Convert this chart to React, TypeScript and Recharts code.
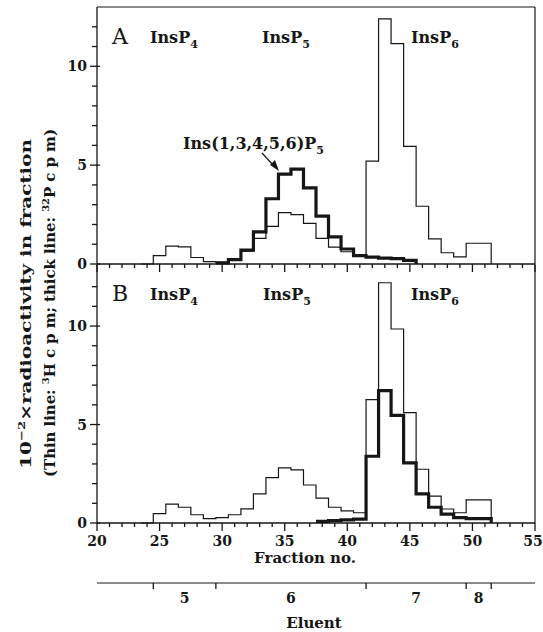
import { LineChart, Line, XAxis, YAxis, ReferenceLine } from "recharts";

// fraction numbers (bins are centred on these, edges at x.5)
const FRACTIONS = [
  24, 25, 26, 27, 28, 29, 30, 31, 32, 33, 34, 35, 36, 37, 38, 39, 40, 41, 42,
  43, 44, 45, 46, 47, 48, 49, 50, 51, 52,
];

// panel A: thin = 3H, thick = 32P  (x 100 c.p.m.)
const THIN_A = [
  0, 0.42, 0.9, 0.87, 0.33, 0.12, 0.08, 0.2, 0.65, 1.3, 1.9, 2.6, 2.5, 2.05,
  1.3, 0.85, 0.62, 0.38, 5.2, 12.4, 11.15, 5.95, 2.92, 1.27, 0.57, 0.36, 1.05,
  1.05, 0,
];
const THICK_A = [
  null, null, null, null, null, null, 0.06, 0.22, 0.7, 1.62, 3.3, 4.55, 4.8,
  3.85, 2.42, 1.37, 0.76, 0.42, 0.35, 0.3, 0.27, 0.18, 0, null, null, null,
  null, null, null,
];

// panel B
const THIN_B = [
  0, 0.48, 0.96, 0.8, 0.42, 0.22, 0.27, 0.42, 0.72, 1.48, 2.3, 2.8, 2.7, 1.93,
  1.26, 0.8, 0.62, 0.52, 6.26, 12.2, 9.85, 5.6, 2.73, 1.36, 0.71, 0.52, 1.17,
  1.17, 0,
];
const THICK_B = [
  null, null, null, null, null, null, null, null, null, null, null, null, null,
  null, 0.08, 0.12, 0.16, 0.2, 3.39, 6.72, 5.46, 3.05, 1.48, 0.8, 0.45, 0.27,
  0.22, 0.22, 0,
];

const X_TICKS = [
  20, 21, 22, 23, 24, 25, 26, 27, 28, 29, 30, 31, 32, 33, 34, 35, 36, 37, 38,
  39, 40, 41, 42, 43, 44, 45, 46, 47, 48, 49, 50, 51, 52, 53, 54, 55,
];
const X_LABELS = [20, 25, 30, 35, 40, 45, 50, 55];
const Y_TICKS = [0, 1, 2, 3, 4, 5, 6, 7, 8, 9, 10, 11, 12];
const Y_LABELS = [0, 5, 10];

// eluent changes (fraction boundaries) and eluent numbers
const ELUENT_BOUNDS = [24.5, 29.5, 41.5, 49.5, 51.5];
const ELUENT_NAMES = ["5", "6", "7", "8"];
const ELUENT_MIDS = ELUENT_NAMES.map(
  (_, i) => (ELUENT_BOUNDS[i] + ELUENT_BOUNDS[i + 1]) / 2
);
const ELUENT_TICKS = [...ELUENT_BOUNDS, ...ELUENT_MIDS].sort((a, b) => a - b);

const INK = "#161616";
const SERIF = "'DejaVu Serif', 'Liberation Serif', serif";

const rows = (thin: (number | null)[], thick: (number | null)[]) =>
  FRACTIONS.map((f, i) => ({ edge: f - 0.5, thin: thin[i], thick: thick[i] }));

const XTick = (props: any) => {
  const { x, y, payload, showLabel } = props;
  const major = X_LABELS.includes(payload.value);
  return (
    <g>
      <line x1={x} x2={x} y1={y} y2={y + (major ? 8 : 4)} stroke={INK} strokeWidth={1.3} />
      {showLabel && major && (
        <text x={Math.min(x, 533)} y={y + 23} textAnchor="middle" fontFamily={SERIF} fontWeight="bold" fontSize={14} fill={INK}>
          {payload.value}
        </text>
      )}
    </g>
  );
};

const YTick = (props: any) => {
  const { x, y, payload } = props;
  const major = Y_LABELS.includes(payload.value);
  return (
    <g>
      <line x1={x - (major ? 7 : 5)} x2={x + (major ? 3 : 0)} y1={y} y2={y} stroke={INK} strokeWidth={1.3} />
      {major && (
        <text x={x - 10} y={y + 5} textAnchor="end" fontFamily={SERIF} fontWeight="bold" fontSize={14} fill={INK}>
          {payload.value}
        </text>
      )}
    </g>
  );
};

const EluentTick = (props: any) => {
  const { x, y, payload } = props;
  const v = payload.value;
  if (ELUENT_BOUNDS.includes(v)) {
    return <line x1={x} x2={x} y1={y} y2={y + 6} stroke={INK} strokeWidth={1.3} />;
  }
  return (
    <text x={x} y={y + 20} textAnchor="middle" fontFamily={SERIF} fontWeight="bold" fontSize={14} fill={INK}>
      {ELUENT_NAMES[ELUENT_MIDS.indexOf(v)]}
    </text>
  );
};

const axisLine = { stroke: INK, strokeWidth: 1.3 };

const InsP = ({ x, y, sub }: { x: number; y: number; sub: string }) => (
  <text x={x} y={y} fontFamily={SERIF} fontWeight="bold" fontSize={16} fill={INK}>
    InsP<tspan dy={5} fontSize={11}>{sub}</tspan>
  </text>
);

export default function App() {
  const dataA = rows(THIN_A, THICK_A);
  const dataB = rows(THIN_B, THICK_B);
  return (
    <div style={{ position: "absolute", left: 0, top: 0, width: 543, height: 632, background: "#fff" }}>
      <div style={{ position: "absolute", left: 0, top: 0 }}>
        <LineChart width={543} height={290} data={dataA} margin={{ top: 7, right: 8, bottom: 0, left: 0 }}>
          <XAxis dataKey="edge" type="number" domain={[20, 55]} ticks={X_TICKS} interval={0} height={26}
            tickSize={0} tickMargin={0} tickLine={false} axisLine={axisLine} tick={<XTick showLabel={false} />} />
          <YAxis type="number" domain={[0, 13]} ticks={Y_TICKS} interval={0} width={97}
            tickSize={0} tickMargin={0} tickLine={false} axisLine={axisLine} tick={<YTick />} />
          <ReferenceLine y={13} stroke={INK} strokeWidth={1.2} />
          <ReferenceLine x={55} stroke={INK} strokeWidth={1.2} />
          <Line type="stepAfter" dataKey="thin" stroke={INK} strokeWidth={1.2} dot={false} activeDot={false} isAnimationActive={false} />
          <Line type="stepAfter" dataKey="thick" stroke={INK} strokeWidth={3.2} dot={false} activeDot={false} isAnimationActive={false} />
        </LineChart>
      </div>
      <div style={{ position: "absolute", left: 0, top: 0 }}>
        <LineChart width={543} height={632} data={dataB} margin={{ top: 265, right: 8, bottom: 0, left: 0 }}>
          <XAxis dataKey="edge" type="number" domain={[20, 55]} ticks={X_TICKS} interval={0} height={60}
            tickSize={0} tickMargin={0} tickLine={false} axisLine={axisLine} tick={<XTick showLabel />} />
          <XAxis xAxisId="el" dataKey="edge" type="number" domain={[20, 55]} ticks={ELUENT_TICKS} interval={0} height={49}
            tickSize={0} tickMargin={0} tickLine={false} axisLine={{ stroke: INK, strokeWidth: 1.1 }} tick={<EluentTick />} />
          <YAxis type="number" domain={[0, 13.1]} ticks={Y_TICKS} interval={0} width={97}
            tickSize={0} tickMargin={0} tickLine={false} axisLine={axisLine} tick={<YTick />} />
          <ReferenceLine x={55} stroke={INK} strokeWidth={1.2} />
          {/* same domain and range as the fraction axis */}
          <Line xAxisId="el" type="stepAfter" dataKey="thin" stroke={INK} strokeWidth={1.2} dot={false} activeDot={false} isAnimationActive={false} />
          <Line type="stepAfter" dataKey="thick" stroke={INK} strokeWidth={3.2} dot={false} activeDot={false} isAnimationActive={false} />
        </LineChart>
      </div>
      <svg width={543} height={632} style={{ position: "absolute", left: 0, top: 0, pointerEvents: "none" }}>
        {/* y axis title */}
        <text transform="rotate(-90 31 304)" x={31} y={304} textAnchor="middle" textLength={330} lengthAdjust="spacingAndGlyphs"
          fontFamily={SERIF} fontWeight="bold" fontSize={15} fill={INK}>
          10<tspan dy={-6} fontSize={10}>−2</tspan><tspan dy={6}>×radioactivity in fraction</tspan>
        </text>
        <text transform="rotate(-90 55 303)" x={55} y={303} textAnchor="middle" textLength={348} lengthAdjust="spacing"
          fontFamily={SERIF} fontWeight="bold" fontSize={15} fill={INK}>
          (Thin line: <tspan dy={-6} fontSize={10}>3</tspan><tspan dy={6}>H c p m; thick line: </tspan>
          <tspan dy={-6} fontSize={10}>32</tspan><tspan dy={6}>P c p m)</tspan>
        </text>

        {/* panel labels */}
        <text x={112} y={44} fontFamily={SERIF} fontSize={22} fill={INK}>A</text>
        <InsP x={150} y={43} sub="4" />
        <InsP x={262} y={43} sub="5" />
        <InsP x={411} y={43} sub="6" />
        <text x={112} y={301} fontFamily={SERIF} fontSize={22} fill={INK}>B</text>
        <InsP x={150} y={300} sub="4" />
        <InsP x={263} y={300} sub="5" />
        <InsP x={411} y={300} sub="6" />

        {/* annotation */}
        <text x={183} y={149} fontFamily={SERIF} fontWeight="bold" fontSize={16} fill={INK}>
          Ins(1,3,4,5,6)P<tspan dy={5} fontSize={11}>5</tspan>
        </text>
        <line x1={262} y1={153} x2={274} y2={166} stroke={INK} strokeWidth={1.2} />
        <polygon points="279,171 270,165 275,160" fill={INK} />

        {/* axis titles */}
        <text x={305} y={563} textAnchor="middle" fontFamily={SERIF} fontWeight="bold" fontSize={15} fill={INK}>Fraction no.</text>
        <text x={314} y={628} textAnchor="middle" fontFamily={SERIF} fontWeight="bold" fontSize={15} fill={INK}>Eluent</text>
      </svg>
    </div>
  );
}
